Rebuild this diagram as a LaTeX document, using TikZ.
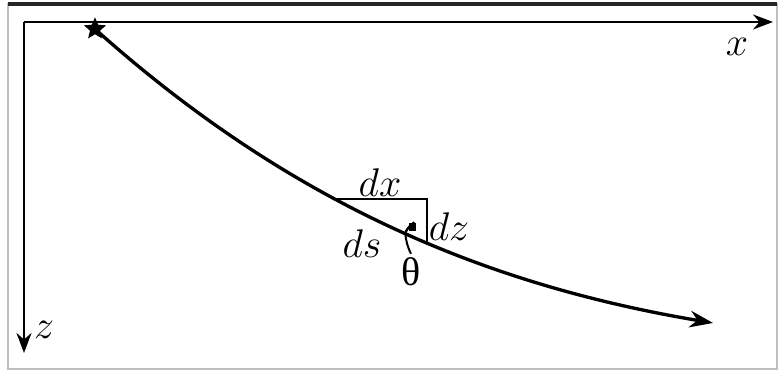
\documentclass[tikz,border=0pt]{standalone}
\usepackage{fontspec}
\usepackage{tikz}
\usetikzlibrary{arrows.meta,shapes.geometric}
\newfontfamily\grk{Liberation Serif}

\begin{document}
\begin{tikzpicture}[
  x=0.3pt, y=0.3pt,
  every node/.style={font=\large, inner sep=1pt},
  frame/.style={draw=black!25, line width=0.4pt},
  axis/.style={-{Stealth[length=6pt, width=4.5pt]}, line width=0.7pt},
  ray/.style={-{Stealth[length=7pt, width=5pt]}, line width=1pt},
  leg/.style={line width=0.7pt},
  src/.style={star, star points=5, star point ratio=2.2, fill, inner sep=0pt, minimum size=7pt},
]
  \useasboundingbox (0,0) rectangle (779,372);
  % frame of the figure
  \draw[frame] (8,3) rectangle (777,368);
  \draw[line width=1pt, black!85] (8,368) -- (777,368);

  % axes
  \coordinate (O) at (24,350);
  \coordinate (xend) at (773,350);
  \coordinate (zend) at (24,19);
  \draw[axis] (O) -- (xend);
  \draw[axis] (O) -- (zend);
  \node (xlab) at (737,325) {$x$};
  \node (zlab) at (44,42) {$z$};

  % ray from the source
  \node[src] (source) at (95,343) {};
  \coordinate (rayend) at (713,49);
  \draw[ray] (source.center) .. controls (295,164) and (493,86) .. (rayend)
    coordinate[pos=0.4] (A) coordinate[pos=0.55] (B);

  % small triangle
  \coordinate (C) at (A -| B);
  \draw[leg] (A) -- (C) -- (B);
  \node (dxlab) at (380,189) {$dx$};
  \node (dzlab) at (449,145) {$dz$};
  \node (dslab) at (362,128) {$ds$};

  % angle mark
  \draw[line width=0.7pt] (B) ++(156:24) coordinate (T) arc (156:122:24);
  \fill (409,141) rectangle (416,149);
  \node[font=\large\grk] (theta) at (411,100) {θ};
  \draw[line width=0.6pt] (T) to[bend right=10] (theta.north);
\end{tikzpicture}
\end{document}
